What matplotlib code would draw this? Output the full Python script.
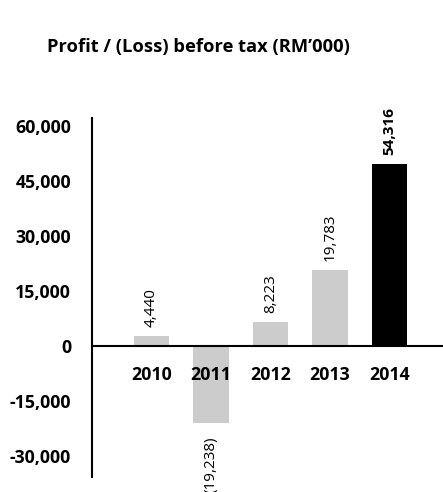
import matplotlib.pyplot as plt

# Profit / (Loss) before tax, RM'000
years = ['2010', '2011', '2012', '2013', '2014']
bar_heights = [2700, -21000, 6500, 20700, 49600]   # heights as drawn in the chart
value_labels = ['4,440', '(19,238)', '8,223', '19,783', '54,316']
bar_colors = ['#cccccc', '#cccccc', '#cccccc', '#cccccc', '#000000']
yticks = [-30000, -15000, 0, 15000, 30000, 45000, 60000]

plt.rcParams['font.family'] = ['Open Sans', 'DejaVu Sans']

fig = plt.figure(figsize=(4.43, 4.92), dpi=100)
ax = fig.add_axes([0.2077, 0.0305, 0.7923, 0.7297])

x = range(len(years))
bars = ax.bar(x, bar_heights, width=0.59, color=bar_colors, zorder=1)

for i, (b, lab) in enumerate(zip(bars, value_labels)):
    h = b.get_height()
    weight = 'bold' if i == len(years) - 1 else 'normal'
    if h >= 0:
        ax.annotate(lab, (b.get_x() + b.get_width() / 2, h), xytext=(0, 6.5),
                    textcoords='offset points', rotation=90, ha='center', va='bottom',
                    fontsize=11, fontweight=weight)
    else:
        ax.annotate(lab, (b.get_x() + b.get_width() / 2, h), xytext=(0, -10),
                    textcoords='offset points', rotation=90, ha='center', va='top',
                    fontsize=11, fontweight=weight)

# spine position first, it resets the tick settings
ax.spines['top'].set_visible(False)
ax.spines['right'].set_visible(False)
ax.spines['bottom'].set_position(('data', 0))
ax.spines['bottom'].set_linewidth(1.5)
ax.spines['left'].set_linewidth(1.5)
ax.spines['bottom'].set_zorder(3)

ax.set_xlim(-1, 4.9)
ax.set_ylim(-35700, 62200)
ax.set_yticks(yticks)
ax.set_yticklabels([f'{v:,}' for v in yticks], fontsize=12.8, fontweight='bold')
ax.set_xticks(list(x))
ax.set_xticklabels(years, fontsize=12.8, fontweight='bold')
ax.tick_params(axis='x', length=0, pad=14)
ax.tick_params(axis='y', length=0, pad=15)

fig.text(0.106, 0.905, 'Profit / (Loss) before tax (RM\u2019000)', fontsize=13.2,
         fontweight='bold', ha='left', va='center')

fig.savefig('out.png', dpi=100)
